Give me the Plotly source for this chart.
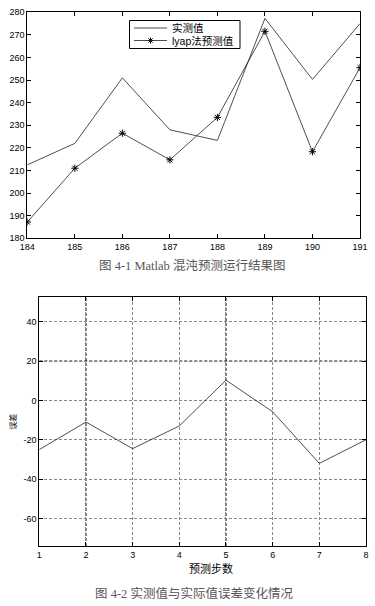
import plotly.graph_objects as go

# ---- data: top chart ----
steps_top = [184, 185, 186, 187, 188, 189, 190, 191]
actual = [212.5, 222, 251, 228, 223.3, 277.3, 250.3, 275]
lyap_pred = [187.2, 211, 226.5, 214.7, 233.5, 271.6, 218.3, 255.5]
top_yticks = [180, 190, 200, 210, 220, 230, 240, 250, 260, 270, 280]
series_names = ["实测值", "lyap法预测值"]

# ---- data: bottom chart ----
steps_bot = [1, 2, 3, 4, 5, 6, 7, 8]
error = [-25, -11, -24.5, -13, 10.3, -5.8, -32, -20]
bot_yticks = [-60, -40, -20, 0, 20, 40]
bot_ytext = ["-60", "-40", "-20", "0", "20", "40"]
dark_grid_x = [2, 5]
dark_grid_y = [20]

W, H = 375, 606
def px(x):
    return x / W
def py(y):
    return 1 - y / H

tick_font = dict(family="Liberation Sans, Arial, sans-serif", size=9, color="#000")
line_style = dict(color="#222", width=0.8)
star_marker = dict(symbol="asterisk-open", size=6, color="#000",
                   line=dict(width=1, color="#000"))

fig = go.Figure()
fig.add_trace(go.Scatter(x=steps_top, y=actual, mode="lines", name=series_names[0],
                         line=line_style, xaxis="x", yaxis="y", showlegend=False))
fig.add_trace(go.Scatter(x=steps_top, y=lyap_pred, mode="lines+markers", name=series_names[1],
                         line=line_style, marker=star_marker,
                         xaxis="x", yaxis="y", showlegend=False))
fig.add_trace(go.Scatter(x=steps_bot, y=error, mode="lines", showlegend=False,
                         line=line_style, xaxis="x2", yaxis="y2"))

for xv in dark_grid_x:
    fig.add_shape(type="line", xref="x2", yref="y2 domain", x0=xv, x1=xv, y0=0, y1=1,
                  line=dict(color="#000", width=1, dash="3px,2px"), layer="below")
for yv in dark_grid_y:
    fig.add_shape(type="line", xref="x2 domain", yref="y2", x0=0, x1=1, y0=yv, y1=yv,
                  line=dict(color="#000", width=1, dash="3px,2px"), layer="below")

# ---- manual MATLAB-style legend box ----
lg_box = (129.5, 20.5, 240, 48.5)      # left, top, right, bottom (px)
lg_rows = [28, 40.5]
lg_line = (134, 167)
lg_text_x = 170
fig.add_shape(type="rect", xref="paper", yref="paper",
              x0=px(lg_box[0]), x1=px(lg_box[2]), y0=py(lg_box[3]), y1=py(lg_box[1]),
              line=dict(color="#000", width=1), fillcolor="white", layer="below")
for i, name in enumerate(series_names):
    fig.add_shape(type="line", xref="paper", yref="paper",
                  x0=px(lg_line[0]), x1=px(lg_line[1]), y0=py(lg_rows[i]), y1=py(lg_rows[i]),
                  line=dict(color="#222", width=0.8), layer="above")
    fig.add_annotation(text=name, xref="paper", yref="paper", x=px(lg_text_x), y=py(lg_rows[i]),
                       xanchor="left", yanchor="middle", showarrow=False,
                       font=dict(family="Liberation Sans, Noto Sans CJK SC", size=10.5, color="#000"))
# legend marker for the second entry (full-page helper axes in pixel units)
fig.add_trace(go.Scatter(x=[(lg_line[0] + lg_line[1]) / 2], y=[lg_rows[1]], mode="markers",
                         marker=dict(symbol="asterisk-open", size=5, color="#000",
                                     line=dict(width=1, color="#000")),
                         xaxis="x3", yaxis="y3", showlegend=False, hoverinfo="skip"))

axis_common = dict(showline=True, linecolor="#000", linewidth=1, mirror="ticks",
                   ticks="inside", ticklen=4, tickcolor="#000", tickfont=tick_font,
                   zeroline=False, automargin=False)

fig.update_layout(
    template="none",
    width=W, height=H, autosize=False,
    margin=dict(l=0, r=0, t=0, b=0, autoexpand=False),
    paper_bgcolor="white", plot_bgcolor="rgba(0,0,0,0)",
    xaxis=dict(domain=[0.0728, 0.96], anchor="y", range=[184, 191],
               tickvals=steps_top, showgrid=False, **axis_common),
    yaxis=dict(domain=[0.6068, 0.9797], anchor="x", range=[180, 280],
               tickvals=top_yticks, showgrid=False, **axis_common),
    xaxis2=dict(domain=[0.1048, 0.976], anchor="y2", range=[1, 8],
                tickvals=steps_bot, showgrid=True, gridcolor="#888",
                griddash="3px,2px", gridwidth=1, **axis_common),
    yaxis2=dict(domain=[0.099, 0.5094], anchor="x2", range=[-74, 52.4],
                tickvals=bot_yticks, ticktext=bot_ytext, showgrid=True,
                gridcolor="#888", griddash="3px,2px", gridwidth=1, **axis_common,
                title=dict(text="误差", standoff=5,
                           font=dict(family="Noto Sans CJK SC", size=8, color="#000"))),
    xaxis3=dict(domain=[0, 1], range=[0, W], visible=False, fixedrange=True, anchor="y3"),
    yaxis3=dict(domain=[0, 1], range=[H, 0], visible=False, fixedrange=True, anchor="x3"),
    showlegend=False,
)

fig.add_annotation(text="预测步数", xref="paper", yref="paper", x=px(211), y=py(568),
                   xanchor="center", yanchor="middle", showarrow=False,
                   font=dict(family="Noto Sans CJK SC", size=11, color="#000"))
fig.add_annotation(text="图 4-1 Matlab 混沌预测运行结果图", xref="paper", yref="paper",
                   x=px(192), y=py(266), xanchor="center", yanchor="middle", showarrow=False,
                   font=dict(family="Liberation Serif, Noto Sans CJK SC", size=12.5, color="#555"))
fig.add_annotation(text="图 4-2 实测值与实际值误差变化情况", xref="paper", yref="paper",
                   x=px(194), y=py(593), xanchor="center", yanchor="middle", showarrow=False,
                   font=dict(family="Liberation Serif, Noto Sans CJK SC", size=12.5, color="#555"))

fig.write_html("out.html", config={"displayModeBar": False},
               post_script="document.body.style.margin='0px';document.body.style.overflow='hidden';")
